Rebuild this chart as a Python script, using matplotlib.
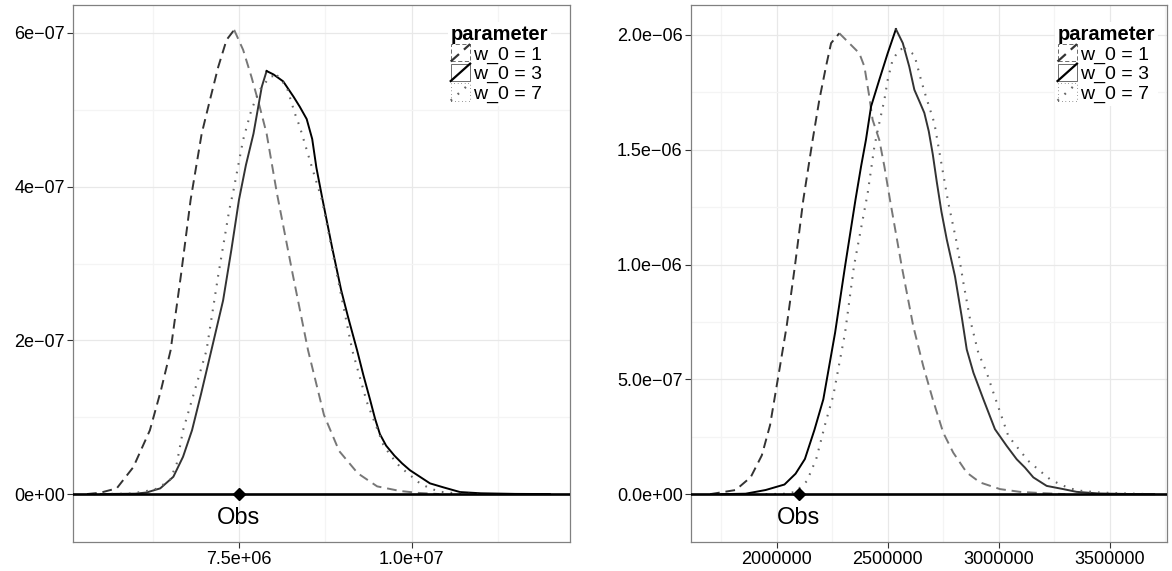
import numpy as np
import matplotlib
matplotlib.use('Agg')
import matplotlib.pyplot as plt
from matplotlib.legend_handler import HandlerBase
from matplotlib.patches import Rectangle
from matplotlib.lines import Line2D

plt.rcParams['font.family'] = ['Liberation Sans', 'DejaVu Sans']

# ---- data (x in units, y in 1e-7 density units) ----
labels = ['w_0 = 1', 'w_0 = 3', 'w_0 = 7']

# left panel
left_x1 = [5.30e6, 5.49e6, 5.73e6, 5.97e6, 6.21e6, 6.37e6, 6.51e6, 6.66e6, 6.80e6, 6.96e6,
           7.08e6, 7.20e6, 7.32e6, 7.43e6, 7.56e6, 7.68e6, 7.80e6, 7.90e6, 8.05e6, 8.28e6,
           8.50e6, 8.73e6, 8.95e6, 9.22e6, 9.50e6, 9.83e6, 10.10e6, 10.40e6]
left_y1 = [0.0, 0.017, 0.074, 0.35, 0.83, 1.35, 1.87, 2.85, 3.83, 4.69,
           5.13, 5.56, 5.91, 6.04, 5.78, 5.43, 5.04, 4.69, 3.91, 2.85,
           1.87, 1.03, 0.56, 0.27, 0.10, 0.04, 0.015, 0.0]
left_x3 = [5.50e6, 6.00e6, 6.16e6, 6.36e6, 6.55e6, 6.69e6, 6.82e6, 6.95e6, 7.10e6, 7.27e6,
           7.39e6, 7.50e6, 7.60e6, 7.71e6, 7.83e6, 7.90e6, 8.00e6, 8.14e6, 8.29e6, 8.38e6,
           8.48e6, 8.56e6, 8.62e6, 8.71e6, 8.85e6, 8.98e6, 9.08e6, 9.21e6, 9.30e6, 9.40e6,
           9.47e6, 9.54e6, 9.63e6, 9.75e6, 9.86e6, 9.975e6, 10.265e6, 10.46e6, 10.70e6, 11.0e6,
           11.5e6, 12.0e6]
left_y3 = [0.0, 0.005, 0.02, 0.074, 0.225, 0.485, 0.83, 1.30, 1.87, 2.52,
           3.18, 3.83, 4.28, 4.69, 5.30, 5.505, 5.46, 5.37, 5.17, 5.04,
           4.88, 4.62, 4.25, 3.83, 3.20, 2.65, 2.30, 1.87, 1.55, 1.22,
           0.98, 0.78, 0.63, 0.50, 0.40, 0.31, 0.139, 0.087, 0.026, 0.01,
           0.002, 0.0]
left_x7 = [5.40e6, 5.90e6, 6.115e6, 6.31e6, 6.50e6, 6.60e6, 6.69e6, 6.86e6, 7.03e6, 7.20e6,
           7.36e6, 7.42e6, 7.56e6, 7.68e6, 7.80e6, 7.95e6, 8.05e6, 8.19e6, 8.31e6, 8.38e6,
           8.54e6, 8.70e6, 8.92e6, 9.14e6, 9.35e6, 9.59e6, 9.69e6, 9.83e6, 9.975e6, 10.12e6,
           10.265e6, 10.41e6, 10.70e6, 11.0e6]
left_y7 = [0.0, 0.005, 0.03, 0.07, 0.18, 0.40, 0.83, 1.35, 1.87, 2.85,
           3.70, 3.95, 4.61, 5.00, 5.26, 5.43, 5.45, 5.30, 4.95, 4.78,
           4.30, 3.83, 2.85, 1.87, 1.20, 0.64, 0.507, 0.355, 0.247, 0.139,
           0.074, 0.03, 0.005, 0.0]

# right panel
right_x1 = [1.70e6, 1.815e6, 1.883e6, 1.933e6, 1.97e6, 2.015e6, 2.045e6, 2.082e6, 2.12e6, 2.162e6,
            2.192e6, 2.222e6, 2.245e6, 2.282e6, 2.342e6, 2.372e6, 2.395e6, 2.417e6, 2.432e6, 2.462e6,
            2.485e6, 2.51e6, 2.563e6, 2.615e6, 2.66e6, 2.703e6, 2.75e6, 2.795e6, 2.856e6, 2.916e6,
            3.006e6, 3.096e6, 3.186e6, 3.30e6]
right_y1 = [0.0, 0.18, 0.74, 1.69, 3.0, 5.58, 7.32, 9.93, 12.83, 15.43,
            17.17, 18.62, 19.64, 20.07, 19.49, 19.20, 18.62, 17.32, 16.30, 15.43,
            14.27, 12.83, 9.93, 7.32, 5.58, 4.13, 2.68, 1.81, 0.94, 0.51,
            0.22, 0.10, 0.05, 0.0]
right_x3 = [1.75e6, 1.86e6, 1.95e6, 2.035e6, 2.085e6, 2.127e6, 2.17e6, 2.21e6, 2.263e6, 2.308e6,
            2.355e6, 2.38e6, 2.402e6, 2.425e6, 2.462e6, 2.50e6, 2.537e6, 2.568e6, 2.597e6, 2.62e6,
            2.643e6, 2.665e6, 2.685e6, 2.703e6, 2.721e6, 2.742e6, 2.766e6, 2.803e6, 2.833e6, 2.856e6,
            2.886e6, 2.931e6, 2.983e6, 3.036e6, 3.081e6, 3.118e6, 3.156e6, 3.216e6, 3.291e6, 3.351e6,
            3.45e6, 3.60e6, 3.70e6]
right_y3 = [0.0, 0.02, 0.18, 0.42, 0.89, 1.53, 2.80, 4.13, 7.03, 9.93,
            12.83, 14.27, 15.43, 16.88, 18.04, 19.20, 20.25, 19.64, 18.62, 17.61,
            17.10, 16.60, 15.80, 14.80, 13.60, 12.30, 11.09, 9.49, 7.75, 6.30,
            5.29, 4.13, 2.83, 2.10, 1.52, 1.16, 0.73, 0.36, 0.22, 0.10,
            0.03, 0.005, 0.0]
right_x7 = [1.95e6, 2.04e6, 2.085e6, 2.136e6, 2.178e6, 2.22e6, 2.255e6, 2.308e6, 2.348e6, 2.41e6,
            2.44e6, 2.462e6, 2.485e6, 2.50e6, 2.522e6, 2.552e6, 2.575e6, 2.62e6, 2.65e6, 2.672e6,
            2.71e6, 2.74e6, 2.773e6, 2.811e6, 2.841e6, 2.871e6, 2.908e6, 2.946e6, 2.976e6, 3.043e6,
            3.073e6, 3.103e6, 3.133e6, 3.186e6, 3.231e6, 3.276e6, 3.321e6, 3.366e6, 3.456e6, 3.546e6,
            3.68e6]
right_y7 = [0.0, 0.02, 0.10, 0.57, 1.53, 3.11, 4.3, 7.03, 9.93, 13.12,
            15.14, 16.16, 17.17, 18.04, 18.91, 19.35, 19.42, 19.13, 18.04, 17.32,
            16.16, 14.5, 12.68, 10.94, 9.20, 7.61, 6.16, 5.29, 4.42, 2.54,
            2.17, 1.81, 1.45, 1.01, 0.65, 0.43, 0.25, 0.15, 0.07, 0.04,
            0.0]

obs_left = 7.5e6
obs_right = 2.1e6

left_xticks = [7.5e6, 1.0e7]
left_xlabels = ['7.5e+06', '1.0e+07']
left_yticks = [0, 2e-7, 4e-7, 6e-7]
left_ylabels = ['0e+00', '2e\u221207', '4e\u221207', '6e\u221207']
right_xticks = [2000000, 2500000, 3000000, 3500000]
right_xlabels = ['2000000', '2500000', '3000000', '3500000']
right_yticks = [0, 5e-7, 1e-6, 1.5e-6, 2e-6]
right_ylabels = ['0.0e+00', '5.0e\u221207', '1.0e\u221206', '1.5e\u221206', '2.0e\u221206']

# ---- styles ----
styles = {
    'w_0 = 1': dict(ls=(0, (5, 3)), lw=1.4),
    'w_0 = 3': dict(ls='-', lw=1.4),
    'w_0 = 7': dict(ls=(0, (0.8, 3.4)), lw=1.5),
}


class BoxKey(HandlerBase):
    # legend key: box outlined in the line style, plus a diagonal
    def create_artists(self, legend, orig_handle, xdescent, ydescent, width, height, fontsize, trans):
        ls = styles[orig_handle.get_label()]['ls']
        box = Rectangle((-xdescent, -ydescent), width, height, facecolor='white',
                        edgecolor='#555555', lw=0.6, linestyle=ls, transform=trans)
        diag = Line2D([-xdescent, -xdescent + width], [-ydescent, -ydescent + height])
        diag.update_from(orig_handle)
        diag.set_transform(trans)
        return [box, diag]


def draw_panel(ax, series, colors, obs, xlim, ylim, xticks, xlabels, yticks, ylabels,
               xminor, yminor, anchor):
    for (x, y, lab), (c_up, c_down) in zip(series, colors):
        x = np.array(x)
        y = np.array(y) * 1e-7
        k = int(np.argmax(y))
        st = styles[lab]
        ax.plot(x[:k + 1], y[:k + 1], color=c_up, linestyle=st['ls'], lw=st['lw'],
                solid_joinstyle='round', dash_capstyle='butt')
        ax.plot(x[k:], y[k:], color=c_down, linestyle=st['ls'], lw=st['lw'],
                solid_joinstyle='round', dash_capstyle='butt')
    ax.axhline(0, color='black', lw=1.9, zorder=3)
    ax.plot([obs], [0], marker='D', color='black', markersize=6.5, zorder=4)
    ax.annotate('Obs', xy=(obs, 0), xytext=(0, -17.5), textcoords='offset points',
                ha='center', va='center', fontsize=17)

    ax.set_xlim(*xlim)
    ax.set_ylim(*ylim)
    ax.set_xticks(xticks)
    ax.set_xticklabels(xlabels)
    ax.set_yticks(yticks)
    ax.set_yticklabels(ylabels)
    ax.set_xticks(xminor, minor=True)
    ax.set_yticks(yminor, minor=True)
    ax.tick_params(which='major', length=4, width=0.8, color='#333333', labelsize=13,
                   labelcolor='black', pad=2)
    ax.tick_params(axis='x', which='major', pad=3)
    ax.tick_params(which='minor', length=0)
    ax.grid(which='major', color='#E8E8E8', lw=0.9)
    ax.grid(which='minor', color='#F4F4F4', lw=0.9)
    ax.set_axisbelow(True)
    for s in ax.spines.values():
        s.set_color('#808080')
        s.set_linewidth(0.9)

    handles = [Line2D([], [], color=hc, label=lab, linestyle=styles[lab]['ls'], lw=1.6)
               for lab, hc in zip(labels, ['#333333', 'black', '#666666'])]
    leg = ax.legend(handles=handles, title='parameter', loc='upper right',
                    bbox_to_anchor=anchor, borderaxespad=0, borderpad=0.15,
                    fontsize=14, title_fontproperties={'weight': 'bold', 'size': 14.5},
                    handler_map={Line2D: BoxKey()}, handlelength=1.0, handleheight=1.0,
                    handletextpad=0.15, labelspacing=0.0, alignment='left',
                    frameon=True, fancybox=False, edgecolor='white', framealpha=1)
    leg.get_frame().set_linewidth(0)
    leg._legend_box.sep = 0


fig = plt.figure(figsize=(11.72, 5.71), dpi=100)
W, H = 1172, 571
ax1 = fig.add_axes([73 / W, (H - 541.7) / H, 497 / W, 536.7 / H])
ax2 = fig.add_axes([691 / W, (H - 541.7) / H, 476 / W, 536.7 / H])

draw_panel(ax1,
           [(left_x1, left_y1, labels[0]), (left_x3, left_y3, labels[1]), (left_x7, left_y7, labels[2])],
           [('#333333', '#777777'), ('#333333', '#000000'), ('#666666', '#666666')],
           obs_left, (5.097e6, 1.2292e7), (-6.2e-8, 6.364e-7),
           left_xticks, left_xlabels, left_yticks, left_ylabels,
           [6.25e6, 8.75e6, 1.125e7], [1e-7, 3e-7, 5e-7], (0.962, 0.968))

draw_panel(ax2,
           [(right_x1, right_y1, labels[0]), (right_x3, right_y3, labels[1]), (right_x7, right_y7, labels[2])],
           [('#333333', '#777777'), ('#000000', '#333333'), ('#666666', '#666666')],
           obs_right, (1.614e6, 3.758e6), (-2.07e-7, 2.13e-6),
           right_xticks, right_xlabels, right_yticks, right_ylabels,
           [1.75e6, 2.25e6, 2.75e6, 3.25e6, 3.75e6], [2.5e-7, 7.5e-7, 1.25e-6, 1.75e-6], (0.981, 0.968))

fig.savefig('out.png', dpi=100)
